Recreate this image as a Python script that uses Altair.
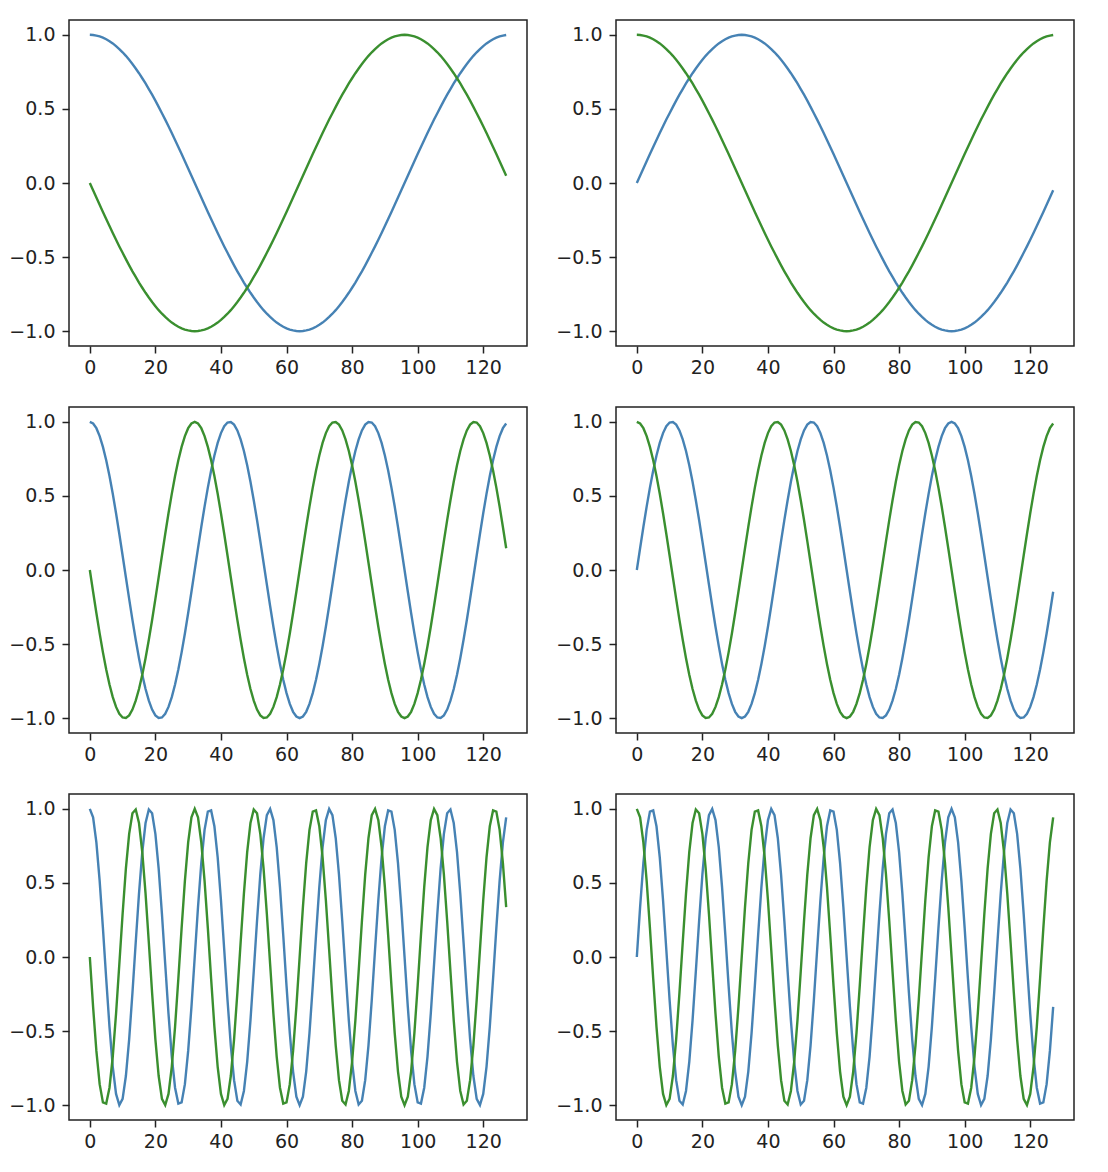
import altair as alt
import pandas as pd

# sample index (x axis)
X = list(range(128))

# values, 3 decimals
COS1 = [
    1.000, 0.999, 0.995, 0.989, 0.981, 0.970, 0.957, 0.942, 0.924, 0.904, 0.882, 0.858, 0.831, 0.803, 0.773, 0.741,
    0.707, 0.672, 0.634, 0.596, 0.556, 0.514, 0.471, 0.428, 0.383, 0.337, 0.290, 0.243, 0.195, 0.147, 0.098, 0.049,
    0.000, -0.049, -0.098, -0.147, -0.195, -0.243, -0.290, -0.337, -0.383, -0.428, -0.471, -0.514, -0.556, -0.596, -0.634, -0.672,
    -0.707, -0.741, -0.773, -0.803, -0.831, -0.858, -0.882, -0.904, -0.924, -0.942, -0.957, -0.970, -0.981, -0.989, -0.995, -0.999,
    -1.000, -0.999, -0.995, -0.989, -0.981, -0.970, -0.957, -0.942, -0.924, -0.904, -0.882, -0.858, -0.831, -0.803, -0.773, -0.741,
    -0.707, -0.672, -0.634, -0.596, -0.556, -0.514, -0.471, -0.428, -0.383, -0.337, -0.290, -0.243, -0.195, -0.147, -0.098, -0.049,
    0.000, 0.049, 0.098, 0.147, 0.195, 0.243, 0.290, 0.337, 0.383, 0.428, 0.471, 0.514, 0.556, 0.596, 0.634, 0.672,
    0.707, 0.741, 0.773, 0.803, 0.831, 0.858, 0.882, 0.904, 0.924, 0.942, 0.957, 0.970, 0.981, 0.989, 0.995, 0.999,
]
SIN1 = [
    0.000, 0.049, 0.098, 0.147, 0.195, 0.243, 0.290, 0.337, 0.383, 0.428, 0.471, 0.514, 0.556, 0.596, 0.634, 0.672,
    0.707, 0.741, 0.773, 0.803, 0.831, 0.858, 0.882, 0.904, 0.924, 0.942, 0.957, 0.970, 0.981, 0.989, 0.995, 0.999,
    1.000, 0.999, 0.995, 0.989, 0.981, 0.970, 0.957, 0.942, 0.924, 0.904, 0.882, 0.858, 0.831, 0.803, 0.773, 0.741,
    0.707, 0.672, 0.634, 0.596, 0.556, 0.514, 0.471, 0.428, 0.383, 0.337, 0.290, 0.243, 0.195, 0.147, 0.098, 0.049,
    0.000, -0.049, -0.098, -0.147, -0.195, -0.243, -0.290, -0.337, -0.383, -0.428, -0.471, -0.514, -0.556, -0.596, -0.634, -0.672,
    -0.707, -0.741, -0.773, -0.803, -0.831, -0.858, -0.882, -0.904, -0.924, -0.942, -0.957, -0.970, -0.981, -0.989, -0.995, -0.999,
    -1.000, -0.999, -0.995, -0.989, -0.981, -0.970, -0.957, -0.942, -0.924, -0.904, -0.882, -0.858, -0.831, -0.803, -0.773, -0.741,
    -0.707, -0.672, -0.634, -0.596, -0.556, -0.514, -0.471, -0.428, -0.383, -0.337, -0.290, -0.243, -0.195, -0.147, -0.098, -0.049,
]
NSIN1 = [
    0.000, -0.049, -0.098, -0.147, -0.195, -0.243, -0.290, -0.337, -0.383, -0.428, -0.471, -0.514, -0.556, -0.596, -0.634, -0.672,
    -0.707, -0.741, -0.773, -0.803, -0.831, -0.858, -0.882, -0.904, -0.924, -0.942, -0.957, -0.970, -0.981, -0.989, -0.995, -0.999,
    -1.000, -0.999, -0.995, -0.989, -0.981, -0.970, -0.957, -0.942, -0.924, -0.904, -0.882, -0.858, -0.831, -0.803, -0.773, -0.741,
    -0.707, -0.672, -0.634, -0.596, -0.556, -0.514, -0.471, -0.428, -0.383, -0.337, -0.290, -0.243, -0.195, -0.147, -0.098, -0.049,
    0.000, 0.049, 0.098, 0.147, 0.195, 0.243, 0.290, 0.337, 0.383, 0.428, 0.471, 0.514, 0.556, 0.596, 0.634, 0.672,
    0.707, 0.741, 0.773, 0.803, 0.831, 0.858, 0.882, 0.904, 0.924, 0.942, 0.957, 0.970, 0.981, 0.989, 0.995, 0.999,
    1.000, 0.999, 0.995, 0.989, 0.981, 0.970, 0.957, 0.942, 0.924, 0.904, 0.882, 0.858, 0.831, 0.803, 0.773, 0.741,
    0.707, 0.672, 0.634, 0.596, 0.556, 0.514, 0.471, 0.428, 0.383, 0.337, 0.290, 0.243, 0.195, 0.147, 0.098, 0.049,
]

COS3 = [
    1.000, 0.989, 0.957, 0.904, 0.831, 0.741, 0.634, 0.514, 0.383, 0.243, 0.098, -0.049, -0.195, -0.337, -0.471, -0.596,
    -0.707, -0.803, -0.882, -0.942, -0.981, -0.999, -0.995, -0.970, -0.924, -0.858, -0.773, -0.672, -0.556, -0.428, -0.290, -0.147,
    0.000, 0.147, 0.290, 0.428, 0.556, 0.672, 0.773, 0.858, 0.924, 0.970, 0.995, 0.999, 0.981, 0.942, 0.882, 0.803,
    0.707, 0.596, 0.471, 0.337, 0.195, 0.049, -0.098, -0.243, -0.383, -0.514, -0.634, -0.741, -0.831, -0.904, -0.957, -0.989,
    -1.000, -0.989, -0.957, -0.904, -0.831, -0.741, -0.634, -0.514, -0.383, -0.243, -0.098, 0.049, 0.195, 0.337, 0.471, 0.596,
    0.707, 0.803, 0.882, 0.942, 0.981, 0.999, 0.995, 0.970, 0.924, 0.858, 0.773, 0.672, 0.556, 0.428, 0.290, 0.147,
    0.000, -0.147, -0.290, -0.428, -0.556, -0.672, -0.773, -0.858, -0.924, -0.970, -0.995, -0.999, -0.981, -0.942, -0.882, -0.803,
    -0.707, -0.596, -0.471, -0.337, -0.195, -0.049, 0.098, 0.243, 0.383, 0.514, 0.634, 0.741, 0.831, 0.904, 0.957, 0.989,
]
SIN3 = [
    0.000, 0.147, 0.290, 0.428, 0.556, 0.672, 0.773, 0.858, 0.924, 0.970, 0.995, 0.999, 0.981, 0.942, 0.882, 0.803,
    0.707, 0.596, 0.471, 0.337, 0.195, 0.049, -0.098, -0.243, -0.383, -0.514, -0.634, -0.741, -0.831, -0.904, -0.957, -0.989,
    -1.000, -0.989, -0.957, -0.904, -0.831, -0.741, -0.634, -0.514, -0.383, -0.243, -0.098, 0.049, 0.195, 0.337, 0.471, 0.596,
    0.707, 0.803, 0.882, 0.942, 0.981, 0.999, 0.995, 0.970, 0.924, 0.858, 0.773, 0.672, 0.556, 0.428, 0.290, 0.147,
    0.000, -0.147, -0.290, -0.428, -0.556, -0.672, -0.773, -0.858, -0.924, -0.970, -0.995, -0.999, -0.981, -0.942, -0.882, -0.803,
    -0.707, -0.596, -0.471, -0.337, -0.195, -0.049, 0.098, 0.243, 0.383, 0.514, 0.634, 0.741, 0.831, 0.904, 0.957, 0.989,
    1.000, 0.989, 0.957, 0.904, 0.831, 0.741, 0.634, 0.514, 0.383, 0.243, 0.098, -0.049, -0.195, -0.337, -0.471, -0.596,
    -0.707, -0.803, -0.882, -0.942, -0.981, -0.999, -0.995, -0.970, -0.924, -0.858, -0.773, -0.672, -0.556, -0.428, -0.290, -0.147,
]
NSIN3 = [
    0.000, -0.147, -0.290, -0.428, -0.556, -0.672, -0.773, -0.858, -0.924, -0.970, -0.995, -0.999, -0.981, -0.942, -0.882, -0.803,
    -0.707, -0.596, -0.471, -0.337, -0.195, -0.049, 0.098, 0.243, 0.383, 0.514, 0.634, 0.741, 0.831, 0.904, 0.957, 0.989,
    1.000, 0.989, 0.957, 0.904, 0.831, 0.741, 0.634, 0.514, 0.383, 0.243, 0.098, -0.049, -0.195, -0.337, -0.471, -0.596,
    -0.707, -0.803, -0.882, -0.942, -0.981, -0.999, -0.995, -0.970, -0.924, -0.858, -0.773, -0.672, -0.556, -0.428, -0.290, -0.147,
    0.000, 0.147, 0.290, 0.428, 0.556, 0.672, 0.773, 0.858, 0.924, 0.970, 0.995, 0.999, 0.981, 0.942, 0.882, 0.803,
    0.707, 0.596, 0.471, 0.337, 0.195, 0.049, -0.098, -0.243, -0.383, -0.514, -0.634, -0.741, -0.831, -0.904, -0.957, -0.989,
    -1.000, -0.989, -0.957, -0.904, -0.831, -0.741, -0.634, -0.514, -0.383, -0.243, -0.098, 0.049, 0.195, 0.337, 0.471, 0.596,
    0.707, 0.803, 0.882, 0.942, 0.981, 0.999, 0.995, 0.970, 0.924, 0.858, 0.773, 0.672, 0.556, 0.428, 0.290, 0.147,
]

COS7 = [
    1.000, 0.942, 0.773, 0.514, 0.195, -0.147, -0.471, -0.741, -0.924, -0.999, -0.957, -0.803, -0.556, -0.243, 0.098, 0.428,
    0.707, 0.904, 0.995, 0.970, 0.831, 0.596, 0.290, -0.049, -0.383, -0.672, -0.882, -0.989, -0.981, -0.858, -0.634, -0.337,
    0.000, 0.337, 0.634, 0.858, 0.981, 0.989, 0.882, 0.672, 0.383, 0.049, -0.290, -0.596, -0.831, -0.970, -0.995, -0.904,
    -0.707, -0.428, -0.098, 0.243, 0.556, 0.803, 0.957, 0.999, 0.924, 0.741, 0.471, 0.147, -0.195, -0.514, -0.773, -0.942,
    -1.000, -0.942, -0.773, -0.514, -0.195, 0.147, 0.471, 0.741, 0.924, 0.999, 0.957, 0.803, 0.556, 0.243, -0.098, -0.428,
    -0.707, -0.904, -0.995, -0.970, -0.831, -0.596, -0.290, 0.049, 0.383, 0.672, 0.882, 0.989, 0.981, 0.858, 0.634, 0.337,
    0.000, -0.337, -0.634, -0.858, -0.981, -0.989, -0.882, -0.672, -0.383, -0.049, 0.290, 0.596, 0.831, 0.970, 0.995, 0.904,
    0.707, 0.428, 0.098, -0.243, -0.556, -0.803, -0.957, -0.999, -0.924, -0.741, -0.471, -0.147, 0.195, 0.514, 0.773, 0.942,
]
SIN7 = [
    0.000, 0.337, 0.634, 0.858, 0.981, 0.989, 0.882, 0.672, 0.383, 0.049, -0.290, -0.596, -0.831, -0.970, -0.995, -0.904,
    -0.707, -0.428, -0.098, 0.243, 0.556, 0.803, 0.957, 0.999, 0.924, 0.741, 0.471, 0.147, -0.195, -0.514, -0.773, -0.942,
    -1.000, -0.942, -0.773, -0.514, -0.195, 0.147, 0.471, 0.741, 0.924, 0.999, 0.957, 0.803, 0.556, 0.243, -0.098, -0.428,
    -0.707, -0.904, -0.995, -0.970, -0.831, -0.596, -0.290, 0.049, 0.383, 0.672, 0.882, 0.989, 0.981, 0.858, 0.634, 0.337,
    0.000, -0.337, -0.634, -0.858, -0.981, -0.989, -0.882, -0.672, -0.383, -0.049, 0.290, 0.596, 0.831, 0.970, 0.995, 0.904,
    0.707, 0.428, 0.098, -0.243, -0.556, -0.803, -0.957, -0.999, -0.924, -0.741, -0.471, -0.147, 0.195, 0.514, 0.773, 0.942,
    1.000, 0.942, 0.773, 0.514, 0.195, -0.147, -0.471, -0.741, -0.924, -0.999, -0.957, -0.803, -0.556, -0.243, 0.098, 0.428,
    0.707, 0.904, 0.995, 0.970, 0.831, 0.596, 0.290, -0.049, -0.383, -0.672, -0.882, -0.989, -0.981, -0.858, -0.634, -0.337,
]
NSIN7 = [
    0.000, -0.337, -0.634, -0.858, -0.981, -0.989, -0.882, -0.672, -0.383, -0.049, 0.290, 0.596, 0.831, 0.970, 0.995, 0.904,
    0.707, 0.428, 0.098, -0.243, -0.556, -0.803, -0.957, -0.999, -0.924, -0.741, -0.471, -0.147, 0.195, 0.514, 0.773, 0.942,
    1.000, 0.942, 0.773, 0.514, 0.195, -0.147, -0.471, -0.741, -0.924, -0.999, -0.957, -0.803, -0.556, -0.243, 0.098, 0.428,
    0.707, 0.904, 0.995, 0.970, 0.831, 0.596, 0.290, -0.049, -0.383, -0.672, -0.882, -0.989, -0.981, -0.858, -0.634, -0.337,
    0.000, 0.337, 0.634, 0.858, 0.981, 0.989, 0.882, 0.672, 0.383, 0.049, -0.290, -0.596, -0.831, -0.970, -0.995, -0.904,
    -0.707, -0.428, -0.098, 0.243, 0.556, 0.803, 0.957, 0.999, 0.924, 0.741, 0.471, 0.147, -0.195, -0.514, -0.773, -0.942,
    -1.000, -0.942, -0.773, -0.514, -0.195, 0.147, 0.471, 0.741, 0.924, 0.999, 0.957, 0.803, 0.556, 0.243, -0.098, -0.428,
    -0.707, -0.904, -0.995, -0.970, -0.831, -0.596, -0.290, 0.049, 0.383, 0.672, 0.882, 0.989, 0.981, 0.858, 0.634, 0.337,
]

X_TICKS = [0, 20, 40, 60, 80, 100, 120]
Y_TICKS = [-1.0, -0.5, 0.0, 0.5, 1.0]
X_DOMAIN = [-6.35, 133.35]
Y_DOMAIN = [-1.1, 1.1]

BLUE = "#4682b4"
GREEN = "#3a8f2f"

# (blue series, green series) per panel, row by row
PANELS = [
    (COS1, NSIN1), (SIN1, COS1),
    (COS3, NSIN3), (SIN3, COS3),
    (COS7, NSIN7), (SIN7, COS7),
]

W, H = 458, 326


def panel(blue, green):
    df = pd.DataFrame({"x": X, "blue": blue, "green": green})
    xenc = alt.X(
        "x:Q",
        scale=alt.Scale(domain=X_DOMAIN, nice=False, zero=False),
        axis=alt.Axis(values=X_TICKS, format="d", title=None),
    )
    yscale = alt.Scale(domain=Y_DOMAIN, nice=False, zero=False)
    yaxis = alt.Axis(values=Y_TICKS, format=".1f", title=None)
    base = alt.Chart(df)
    l1 = base.mark_line(color=BLUE, strokeWidth=2.4).encode(
        x=xenc, y=alt.Y("blue:Q", scale=yscale, axis=yaxis)
    )
    l2 = base.mark_line(color=GREEN, strokeWidth=2.4).encode(
        x=xenc, y=alt.Y("green:Q", scale=yscale, axis=yaxis)
    )
    return alt.layer(l1, l2).properties(width=W, height=H)


rows = []
for i in range(0, 6, 2):
    rows.append(alt.hconcat(panel(*PANELS[i]), panel(*PANELS[i + 1]), spacing=27))

chart = (
    alt.vconcat(*rows, spacing=28)
    .properties(padding={"left": 0, "top": 11, "right": 5, "bottom": 5})
    .configure_view(stroke="#222222", strokeWidth=1.5)
    .configure_axis(
        grid=False,
        domain=False,
        ticks=True,
        tickSize=7,
        tickWidth=1.5,
        tickColor="#222222",
        labelFont="DejaVu Sans",
        labelFontSize=19,
        labelColor="#222222",
        labelPadding=7,
    )
    .configure_axisX(labelPadding=5)
)

chart.save("out.html", embed_options={"renderer": "svg", "actions": False})
